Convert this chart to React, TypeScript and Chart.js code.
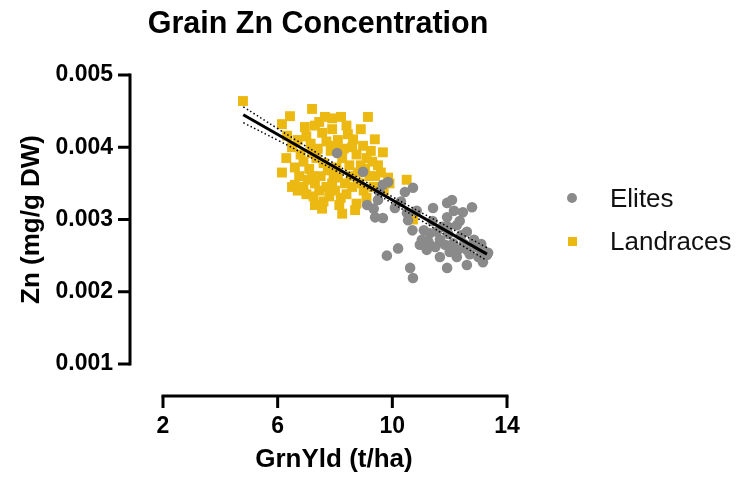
import React, { useEffect, useRef } from "react";
import { Chart, registerables } from "chart.js";

Chart.register(...registerables);

const chartTitle = "Grain Zn Concentration";
const xTitle = "GrnYld (t/ha)";
const yTitle = "Zn (mg/g DW)";
const seriesNames = ["Elites", "Landraces"];
const xTicks = [2, 6, 10, 14];
const yTicks = [0.001, 0.002, 0.003, 0.004, 0.005];

const elites: [number, number][] = [
  [8.07, 0.00392], [8.98, 0.00366], [9.67, 0.00348], [9.85, 0.00352], [10.44, 0.00338], [10.72, 0.00344],
  [9.12, 0.0032], [9.5, 0.00327], [9.4, 0.00303], [9.67, 0.00302], [10.09, 0.00316], [10.51, 0.00309],
  [10.55, 0.00299], [11.42, 0.00316], [11.91, 0.00323], [12.08, 0.00327], [12.46, 0.0031], [12.78, 0.00317],
  [11.91, 0.00303], [11.94, 0.0029], [12.25, 0.00292], [12.6, 0.00283], [11.31, 0.00281], [11.03, 0.00272],
  [10.96, 0.00265], [11.31, 0.00265], [11.66, 0.00272], [11.84, 0.00265], [12.12, 0.00267], [12.29, 0.00258],
  [12.6, 0.00258], [12.95, 0.00262], [13.16, 0.00258], [13.34, 0.00254], [11.66, 0.00248], [12.25, 0.00248],
  [13.16, 0.00241], [10.2, 0.0026], [9.81, 0.0025], [10.62, 0.00233], [10.72, 0.00219], [11.91, 0.00233],
  [12.6, 0.00237], [13.3, 0.00251], [9.55, 0.00338], [9.35, 0.00315], [10.3, 0.00325], [11.1, 0.00285],
  [11.55, 0.00283], [11.75, 0.0029], [12.4, 0.00278], [12.85, 0.00272], [11.2, 0.00258], [11.5, 0.00262],
  [12.0, 0.00255], [12.7, 0.00252], [13.0, 0.00248], [11.95, 0.0028], [12.35, 0.00298], [11.4, 0.00298],
  [10.85, 0.00312], [12.15, 0.00312], [10.7, 0.00285], [11.25, 0.0027], [12.5, 0.00266], [13.1, 0.00266]
];

const landraces: [number, number][] = [
  [4.79, 0.00464],
  [6.15, 0.00432], [6.43, 0.00443], [6.33, 0.00416], [6.95, 0.00428], [7.2, 0.00453], [7.65, 0.00442],
  [8.21, 0.00442], [9.15, 0.00442],
  [7.3, 0.0043], [7.55, 0.0042], [7.9, 0.00425], [8.1, 0.0041], [8.63, 0.00411], [8.98, 0.00402],
  [9.39, 0.00411], [9.67, 0.00393],
  [7.0, 0.00415], [7.15, 0.00405], [7.4, 0.00398], [7.7, 0.00408], [7.85, 0.00395], [8.0, 0.00402],
  [8.3, 0.00398], [8.45, 0.00418], [8.75, 0.0039], [9.1, 0.00385], [9.3, 0.0038], [9.5, 0.00375],
  [6.8, 0.0039], [6.9, 0.0038], [7.1, 0.0037], [7.35, 0.00385], [7.6, 0.00378], [7.75, 0.00368],
  [8.05, 0.00372], [8.25, 0.00385], [8.5, 0.00375], [8.8, 0.00365], [9.05, 0.0037], [9.2, 0.0036],
  [9.6, 0.00365], [9.85, 0.00358],
  [6.15, 0.00365], [6.5, 0.00345], [6.7, 0.0034], [6.6, 0.00348], [6.75, 0.0036], [6.9, 0.00345],
  [7.05, 0.00355], [7.3, 0.0035], [7.5, 0.0036], [7.7, 0.00345], [7.9, 0.0035], [8.1, 0.00358],
  [8.35, 0.0035], [8.6, 0.00345], [8.85, 0.0035], [9.0, 0.0034], [9.35, 0.00345],
  [7.0, 0.00335], [7.25, 0.00332], [7.45, 0.0034], [7.6, 0.00325], [7.8, 0.00332], [8.0, 0.0034],
  [8.2, 0.0033], [8.4, 0.00335], [8.75, 0.00322], [9.1, 0.0033], [7.55, 0.00315], [8.15, 0.0032],
  [8.7, 0.00313], [8.25, 0.00308], [7.3, 0.0032],
  [10.5, 0.00355], [10.72, 0.003], [9.9, 0.0035], [9.7, 0.0034],
  [6.5, 0.004], [6.7, 0.0041], [6.6, 0.00372], [6.3, 0.00385], [7.45, 0.00435], [8.4, 0.0043],
  [8.9, 0.00425], [9.25, 0.00395], [7.9, 0.0044], [7.2, 0.00392], [8.6, 0.004], [8.9, 0.00375],
  [9.4, 0.0036], [8.55, 0.0036], [7.95, 0.00362], [7.2, 0.0036]
];

const fitLine: [number, number][] = [[4.8, 0.00445], [13.3, 0.002521]];
const ciUpper: [number, number][] = [
  [4.8, 0.00456], [6, 0.004258], [7, 0.004011], [8, 0.003769], [9, 0.003537],
  [10, 0.003315], [11, 0.003098], [12, 0.002886], [13.3, 0.002611]
];
const ciLower: [number, number][] = [
  [4.8, 0.00434], [6, 0.004098], [7, 0.003891], [8, 0.003679], [9, 0.003457],
  [10, 0.003225], [11, 0.002988], [12, 0.002746], [13.3, 0.002431]
];

const GRAY = "#8a8a8a";
const YELLOW = "#ecb912";
const FONT = "'Liberation Sans', Arial, sans-serif";

const toPts = (a: [number, number][]) => a.map(([x, y]) => ({ x, y }));

export default function App() {
  const ref = useRef<HTMLCanvasElement | null>(null);

  useEffect(() => {
    document.body.style.margin = "0";
    const canvas = ref.current;
    if (!canvas) return;

    const decor = {
      id: "decor",
      afterDraw(chart: any) {
        const ctx = chart.ctx as CanvasRenderingContext2D;
        const xs = chart.scales.x;
        const ys = chart.scales.y;
        ctx.save();
        ctx.strokeStyle = "#000";
        ctx.lineWidth = 3;
        ctx.lineCap = "butt";
        const ax = 130;
        const yTop = ys.getPixelForValue(yTicks[yTicks.length - 1]);
        const yBot = ys.getPixelForValue(yTicks[0]);
        ctx.beginPath();
        ctx.moveTo(ax, yTop - 1.5);
        ctx.lineTo(ax, yBot + 1.5);
        ctx.stroke();
        yTicks.forEach((v) => {
          const p = ys.getPixelForValue(v);
          ctx.beginPath();
          ctx.moveTo(ax, p);
          ctx.lineTo(ax - 12, p);
          ctx.stroke();
        });
        const ay = 396;
        const xL = xs.getPixelForValue(xTicks[0]);
        const xR = xs.getPixelForValue(xTicks[xTicks.length - 1]);
        ctx.beginPath();
        ctx.moveTo(xL - 1.5, ay);
        ctx.lineTo(xR + 1.5, ay);
        ctx.stroke();
        xTicks.forEach((v) => {
          const p = xs.getPixelForValue(v);
          ctx.beginPath();
          ctx.moveTo(p, ay);
          ctx.lineTo(p, ay + 12);
          ctx.stroke();
        });
        ctx.fillStyle = "#000";
        ctx.textAlign = "center";
        ctx.textBaseline = "alphabetic";
        ctx.font = `bold 30.5px ${FONT}`;
        ctx.fillText(chartTitle, 318, 33);
        ctx.font = `bold 26px ${FONT}`;
        ctx.fillText(xTitle, 334, 467);
        ctx.save();
        ctx.translate(39, (yTop + yBot) / 2);
        ctx.rotate(-Math.PI / 2);
        ctx.fillText(yTitle, 0, 0);
        ctx.restore();
        ctx.font = `26px ${FONT}`;
        ctx.textAlign = "left";
        ctx.textBaseline = "alphabetic";
        ctx.fillStyle = GRAY;
        ctx.beginPath();
        ctx.arc(572, 198, 5, 0, Math.PI * 2);
        ctx.fill();
        ctx.fillStyle = YELLOW;
        ctx.fillRect(568, 237, 9, 9);
        ctx.fillStyle = "#111";
        ctx.fillText(seriesNames[0], 610, 207);
        ctx.fillText(seriesNames[1], 610, 250);
        ctx.restore();
      },
    };

    const chart = new Chart(canvas, {
      type: "scatter",
      data: {
        datasets: [
          {
            label: "fit",
            data: toPts(fitLine),
            showLine: true,
            borderColor: "#000",
            borderWidth: 3,
            pointRadius: 0,
            order: 0,
          },
          {
            label: "upper",
            data: toPts(ciUpper),
            showLine: true,
            borderColor: "#000",
            borderWidth: 1.5,
            borderDash: [1.5, 2.5],
            pointRadius: 0,
            tension: 0.4,
            order: 1,
          },
          {
            label: "lower",
            data: toPts(ciLower),
            showLine: true,
            borderColor: "#000",
            borderWidth: 1.5,
            borderDash: [1.5, 2.5],
            pointRadius: 0,
            tension: 0.4,
            order: 2,
          },
          {
            label: seriesNames[0],
            data: toPts(elites),
            backgroundColor: GRAY,
            borderWidth: 0,
            pointStyle: "circle",
            pointRadius: 5.3,
            order: 3,
          },
          {
            label: seriesNames[1],
            data: toPts(landraces),
            backgroundColor: YELLOW,
            borderWidth: 0,
            pointStyle: "rect",
            pointRadius: 7,
            order: 4,
          },
        ],
      },
      options: {
        animation: false,
        responsive: false,
        devicePixelRatio: 1,
        layout: { padding: { top: 75, right: 231, bottom: 0, left: 0 } },
        plugins: {
          legend: { display: false },
          title: { display: false },
          tooltip: { enabled: false },
        },
        scales: {
          x: {
            type: "linear",
            min: 2,
            max: 14,
            afterFit: (s: any) => {
              s.height = 118;
            },
            afterBuildTicks: (s: any) => {
              s.ticks = xTicks.map((v) => ({ value: v }));
            },
            grid: { display: false, drawTicks: false },
            border: { display: false },
            ticks: {
              padding: 49,
              color: "#000",
              font: { family: FONT, size: 23, weight: "bold" },
              callback: (v: any) => String(v),
            },
          },
          y: {
            type: "linear",
            min: 0.001,
            max: 0.005,
            afterFit: (s: any) => {
              s.width = 163;
            },
            afterBuildTicks: (s: any) => {
              s.ticks = yTicks.map((v) => ({ value: v }));
            },
            grid: { display: false, drawTicks: false },
            border: { display: false },
            ticks: {
              padding: 50,
              color: "#000",
              font: { family: FONT, size: 23, weight: "bold" },
              callback: (v: any) => Number(v).toFixed(3),
            },
          },
        },
      },
      plugins: [decor],
    } as any);

    return () => chart.destroy();
  }, []);

  return (
    <div style={{ width: 738, height: 482 }}>
      <canvas ref={ref} width={738} height={482} />
    </div>
  );
}
